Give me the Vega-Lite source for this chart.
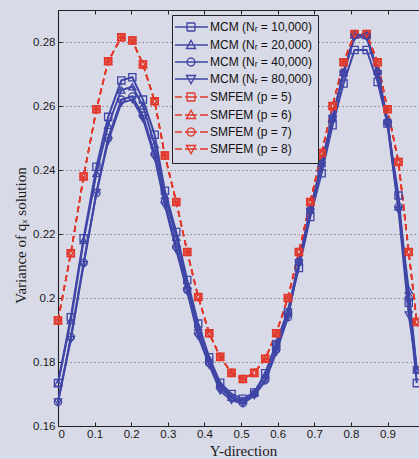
{
  "$schema": "https://vega.github.io/schema/vega-lite/v6.json",
  "width": 361,
  "height": 416,
  "autosize": {"type": "none"},
  "padding": {"left": 58, "top": 10, "right": 0, "bottom": 33},
  "background": "#d9dae7",
  "config": {
    "view": {"stroke": "#222222", "strokeWidth": 1, "fill": "#d9dae7"},
    "axis": {
      "domainColor": "#222222",
      "domainWidth": 1.1,
      "tickColor": "#222222",
      "labelFont": "Liberation Sans",
      "labelFontSize": 11.5,
      "labelColor": "#1a1a1a",
      "titleFont": "Liberation Serif",
      "titleFontWeight": "normal",
      "titleColor": "#1a1a1a",
      "titleFontSize": 15
    }
  },
  "data": {
    "values": [
      {"x": 0, "m1": 0.1734, "m2": 0.1734, "m3": 0.1675, "m4": 0.1675, "s5": 0.193, "s6": 0.193, "s7": 0.193, "s8": 0.193},
      {"x": 0.035, "m1": 0.194, "m2": 0.193, "m3": 0.1878, "m4": 0.187, "s5": 0.214, "s6": 0.214, "s7": 0.214, "s8": 0.214},
      {"x": 0.07, "m1": 0.2187, "m2": 0.218, "m3": 0.211, "m4": 0.2105, "s5": 0.238, "s6": 0.238, "s7": 0.238, "s8": 0.238},
      {"x": 0.105, "m1": 0.241, "m2": 0.239, "m3": 0.2328, "m4": 0.233, "s5": 0.259, "s6": 0.259, "s7": 0.259, "s8": 0.259},
      {"x": 0.137, "m1": 0.2566, "m2": 0.254, "m3": 0.25, "m4": 0.249, "s5": 0.274, "s6": 0.274, "s7": 0.274, "s8": 0.274},
      {"x": 0.173, "m1": 0.268, "m2": 0.265, "m3": 0.262, "m4": 0.261, "s5": 0.2815, "s6": 0.2815, "s7": 0.2815, "s8": 0.2815},
      {"x": 0.203, "m1": 0.269, "m2": 0.266, "m3": 0.263, "m4": 0.262, "s5": 0.2805, "s6": 0.2805, "s7": 0.2805, "s8": 0.2805},
      {"x": 0.232, "m1": 0.262, "m2": 0.26, "m3": 0.257, "m4": 0.256, "s5": 0.273, "s6": 0.273, "s7": 0.273, "s8": 0.273},
      {"x": 0.264, "m1": 0.251, "m2": 0.248, "m3": 0.245, "m4": 0.244, "s5": 0.2615, "s6": 0.2615, "s7": 0.2615, "s8": 0.2615},
      {"x": 0.292, "m1": 0.2335, "m2": 0.232, "m3": 0.23, "m4": 0.229, "s5": 0.2445, "s6": 0.2445, "s7": 0.2445, "s8": 0.2445},
      {"x": 0.323, "m1": 0.2206, "m2": 0.219, "m3": 0.216, "m4": 0.215, "s5": 0.23, "s6": 0.23, "s7": 0.23, "s8": 0.23},
      {"x": 0.353, "m1": 0.2056, "m2": 0.204, "m3": 0.2025, "m4": 0.202, "s5": 0.2144, "s6": 0.2144, "s7": 0.2144, "s8": 0.2144},
      {"x": 0.383, "m1": 0.192, "m2": 0.191, "m3": 0.189, "m4": 0.188, "s5": 0.2003, "s6": 0.2003, "s7": 0.2003, "s8": 0.2003},
      {"x": 0.413, "m1": 0.1815, "m2": 0.181, "m3": 0.1797, "m4": 0.179, "s5": 0.189, "s6": 0.189, "s7": 0.189, "s8": 0.189},
      {"x": 0.443, "m1": 0.1735, "m2": 0.173, "m3": 0.172, "m4": 0.171, "s5": 0.1816, "s6": 0.1816, "s7": 0.1816, "s8": 0.1816},
      {"x": 0.474, "m1": 0.17, "m2": 0.169, "m3": 0.1688, "m4": 0.168, "s5": 0.1766, "s6": 0.1766, "s7": 0.1766, "s8": 0.1766},
      {"x": 0.505, "m1": 0.1685, "m2": 0.168, "m3": 0.1672, "m4": 0.167, "s5": 0.1747, "s6": 0.1747, "s7": 0.1747, "s8": 0.1747},
      {"x": 0.536, "m1": 0.1705, "m2": 0.1705, "m3": 0.17, "m4": 0.1695, "s5": 0.1766, "s6": 0.1766, "s7": 0.1766, "s8": 0.1766},
      {"x": 0.566, "m1": 0.1765, "m2": 0.176, "m3": 0.1744, "m4": 0.174, "s5": 0.181, "s6": 0.181, "s7": 0.181, "s8": 0.181},
      {"x": 0.596, "m1": 0.1855, "m2": 0.186, "m3": 0.1838, "m4": 0.183, "s5": 0.189, "s6": 0.189, "s7": 0.189, "s8": 0.189},
      {"x": 0.628, "m1": 0.1955, "m2": 0.196, "m3": 0.194, "m4": 0.194, "s5": 0.2, "s6": 0.2, "s7": 0.2, "s8": 0.2},
      {"x": 0.658, "m1": 0.2094, "m2": 0.2113, "m3": 0.2113, "m4": 0.211, "s5": 0.2144, "s6": 0.2144, "s7": 0.2144, "s8": 0.2144},
      {"x": 0.689, "m1": 0.2253, "m2": 0.2275, "m3": 0.2275, "m4": 0.227, "s5": 0.23, "s6": 0.23, "s7": 0.23, "s8": 0.23},
      {"x": 0.72, "m1": 0.239, "m2": 0.242, "m3": 0.242, "m4": 0.2415, "s5": 0.2453, "s6": 0.2453, "s7": 0.2453, "s8": 0.2453},
      {"x": 0.75, "m1": 0.254, "m2": 0.2565, "m3": 0.2565, "m4": 0.256, "s5": 0.26, "s6": 0.26, "s7": 0.26, "s8": 0.26},
      {"x": 0.78, "m1": 0.267, "m2": 0.2705, "m3": 0.2705, "m4": 0.27, "s5": 0.2737, "s6": 0.2737, "s7": 0.2737, "s8": 0.2737},
      {"x": 0.81, "m1": 0.2775, "m2": 0.2822, "m3": 0.2822, "m4": 0.2815, "s5": 0.2825, "s6": 0.2825, "s7": 0.2825, "s8": 0.2825},
      {"x": 0.843, "m1": 0.2775, "m2": 0.282, "m3": 0.282, "m4": 0.2815, "s5": 0.2825, "s6": 0.2825, "s7": 0.2825, "s8": 0.2825},
      {"x": 0.873, "m1": 0.2675, "m2": 0.271, "m3": 0.2705, "m4": 0.27, "s5": 0.2737, "s6": 0.2737, "s7": 0.2737, "s8": 0.2737},
      {"x": 0.9, "m1": 0.2545, "m2": 0.2556, "m3": 0.255, "m4": 0.254, "s5": 0.259, "s6": 0.259, "s7": 0.259, "s8": 0.259},
      {"x": 0.93, "m1": 0.232, "m2": 0.2285, "m3": 0.2285, "m4": 0.2275, "s5": 0.2425, "s6": 0.2425, "s7": 0.2425, "s8": 0.2425},
      {"x": 0.958, "m1": 0.1985, "m2": 0.2025, "m3": 0.2, "m4": 0.1947, "s5": 0.2144, "s6": 0.2144, "s7": 0.2144, "s8": 0.2144},
      {"x": 0.98, "m1": 0.1734, "m2": 0.1775, "m3": 0.1775, "m4": 0.1775, "s5": 0.1925, "s6": 0.1925, "s7": 0.1925, "s8": 0.1925}
    ]
  },
  "transform": [
    {"fold": ["m1", "m2", "m3", "m4", "s5", "s6", "s7", "s8"], "as": ["series", "v"]}
  ],
  "encoding": {
    "y": {
      "field": "v",
      "type": "quantitative",
      "scale": {"domain": [0.16, 0.29], "nice": false, "zero": false},
      "axis": {
        "values": [0.16, 0.18, 0.2, 0.22, 0.24, 0.26, 0.28],
        "format": ".2~f",
        "grid": true,
        "gridColor": "#7c7c84",
        "gridDash": [1.5, 2.5],
        "gridWidth": 0.9,
        "tickSize": -4,
        "labelPadding": 7,
        "title": "Variance of qₓ solution",
        "titleX": -38,
        "titleY": 225,
        "titleAngle": -90,
        "titleAlign": "center",
        "titleBaseline": "middle"
      }
    },
    "color": {
      "field": "series",
      "type": "nominal",
      "scale": {
        "domain": ["m1", "m2", "m3", "m4", "s5", "s6", "s7", "s8"],
        "range": ["#3e45a6", "#3e45a6", "#3e45a6", "#3e45a6", "#e2392c", "#e2392c", "#e2392c", "#e2392c"]
      },
      "legend": {
        "title": null,
        "orient": "none",
        "legendX": 114,
        "legendY": 5,
        "strokeColor": "#222222",
        "fillColor": "#d9dae7",
        "padding": 6,
        "cornerRadius": 0,
        "labelFont": "Liberation Sans",
        "labelFontSize": 12,
        "labelColor": "#111111",
        "symbolSize": 100,
        "symbolOpacity": 1,
        "symbolDash": [1, 0],
        "symbolFillColor": "transparent",
        "labelOffset": 20,
        "rowPadding": 3,
        "symbolStrokeWidth": 1.3,
        "labelExpr": "['MCM (Nᵣ = 10,000)','MCM (Nᵣ = 20,000)','MCM (Nᵣ = 40,000)','MCM (Nᵣ = 80,000)','SMFEM (p = 5)','SMFEM (p = 6)','SMFEM (p = 7)','SMFEM (p = 8)'][indexof(['m1','m2','m3','m4','s5','s6','s7','s8'], datum.value)]"
      }
    }
  },
  "layer": [
    {
      "transform": [{"filter": {"field": "series", "oneOf": ["m1", "m2", "m3", "m4"]}}],
      "mark": {"type": "line", "strokeWidth": 2},
      "encoding": {
        "x": {
          "field": "x",
          "type": "quantitative",
          "scale": {"domain": [0, 0.986], "nice": false, "zero": false},
          "axis": {
            "orient": "bottom",
            "values": [0, 0.1, 0.2, 0.3, 0.4, 0.5, 0.6, 0.7, 0.8, 0.9],
            "format": ".1~f",
            "grid": false,
            "tickSize": -4,
            "labelPadding": 6,
            "title": "Y-direction",
            "titleX": 185,
            "titleY": 24,
            "titleAlign": "center",
            "titleBaseline": "middle"
          }
        }
      }
    },
    {
      "transform": [{"filter": {"field": "series", "oneOf": ["s5", "s6", "s7", "s8"]}}],
      "mark": {"type": "line", "strokeWidth": 1.6, "strokeDash": [6, 4]},
      "encoding": {
        "x": {"field": "x", "type": "quantitative", "scale": {"domain": [0, 0.986], "nice": false, "zero": false}, "axis": null}
      }
    },
    {
      "transform": [{"filter": {"field": "series", "oneOf": ["m1", "s5"]}}],
      "mark": {"type": "point", "shape": "square", "filled": false, "size": 52, "strokeWidth": 1.3, "opacity": 1},
      "encoding": {
        "x": {
          "field": "x",
          "type": "quantitative",
          "scale": {"domain": [0, 0.986], "nice": false, "zero": false},
          "axis": {
            "orient": "top",
            "values": [0, 0.1, 0.2, 0.3, 0.4, 0.5, 0.6, 0.7, 0.8, 0.9],
            "labels": false,
            "domain": false,
            "grid": false,
            "tickSize": -4,
            "title": null
          }
        }
      }
    },
    {
      "transform": [{"filter": {"field": "series", "oneOf": ["m2", "s6"]}}],
      "mark": {"type": "point", "shape": "triangle-up", "filled": false, "size": 52, "strokeWidth": 1.3, "opacity": 1},
      "encoding": {
        "x": {"field": "x", "type": "quantitative", "scale": {"domain": [0, 0.986], "nice": false, "zero": false}, "axis": null}
      }
    },
    {
      "transform": [{"filter": {"field": "series", "oneOf": ["m3", "s7"]}}],
      "mark": {"type": "point", "shape": "circle", "filled": false, "size": 52, "strokeWidth": 1.3, "opacity": 1},
      "encoding": {
        "x": {"field": "x", "type": "quantitative", "scale": {"domain": [0, 0.986], "nice": false, "zero": false}, "axis": null}
      }
    },
    {
      "transform": [{"filter": {"field": "series", "oneOf": ["m4", "s8"]}}],
      "mark": {"type": "point", "shape": "triangle-down", "filled": false, "size": 52, "strokeWidth": 1.3, "opacity": 1},
      "encoding": {
        "x": {"field": "x", "type": "quantitative", "scale": {"domain": [0, 0.986], "nice": false, "zero": false}, "axis": null}
      }
    },
    {
      "transform": [{"filter": {"field": "x", "equal": 0.505}}],
      "mark": {"type": "point", "filled": false, "opacity": 0},
      "encoding": {
        "x": {"field": "x", "type": "quantitative", "scale": {"domain": [0, 0.986], "nice": false, "zero": false}, "axis": null},
        "shape": {
          "field": "series",
          "type": "nominal",
          "scale": {
            "domain": ["m1", "m2", "m3", "m4", "s5", "s6", "s7", "s8"],
            "range": [
              "M-1.8,0H4.8M0.6,-0.8H2.2V0.8H0.6Z",
              "M-1.8,0H4.8M1.4,-0.95L2.3,0.7H0.5Z",
              "M-1.8,0H4.8M2.2,0A0.8,0.8 0 1,1 0.6,0A0.8,0.8 0 1,1 2.2,0Z",
              "M-1.8,0H4.8M1.4,0.95L2.3,-0.7H0.5Z",
              "M-1.8,0H-0.4M0.2,0H2.6M3.2,0H4.8M0.6,-0.8H2.2V0.8H0.6Z",
              "M-1.8,0H-0.4M0.2,0H2.6M3.2,0H4.8M1.4,-0.95L2.3,0.7H0.5Z",
              "M-1.8,0H-0.4M0.2,0H2.6M3.2,0H4.8M2.2,0A0.8,0.8 0 1,1 0.6,0A0.8,0.8 0 1,1 2.2,0Z",
              "M-1.8,0H-0.4M0.2,0H2.6M3.2,0H4.8M1.4,0.95L2.3,-0.7H0.5Z"
            ]
          },
          "legend": {"title": null}
        }
      }
    }
  ],
  "resolve": {"axis": {"x": "independent"}}
}
